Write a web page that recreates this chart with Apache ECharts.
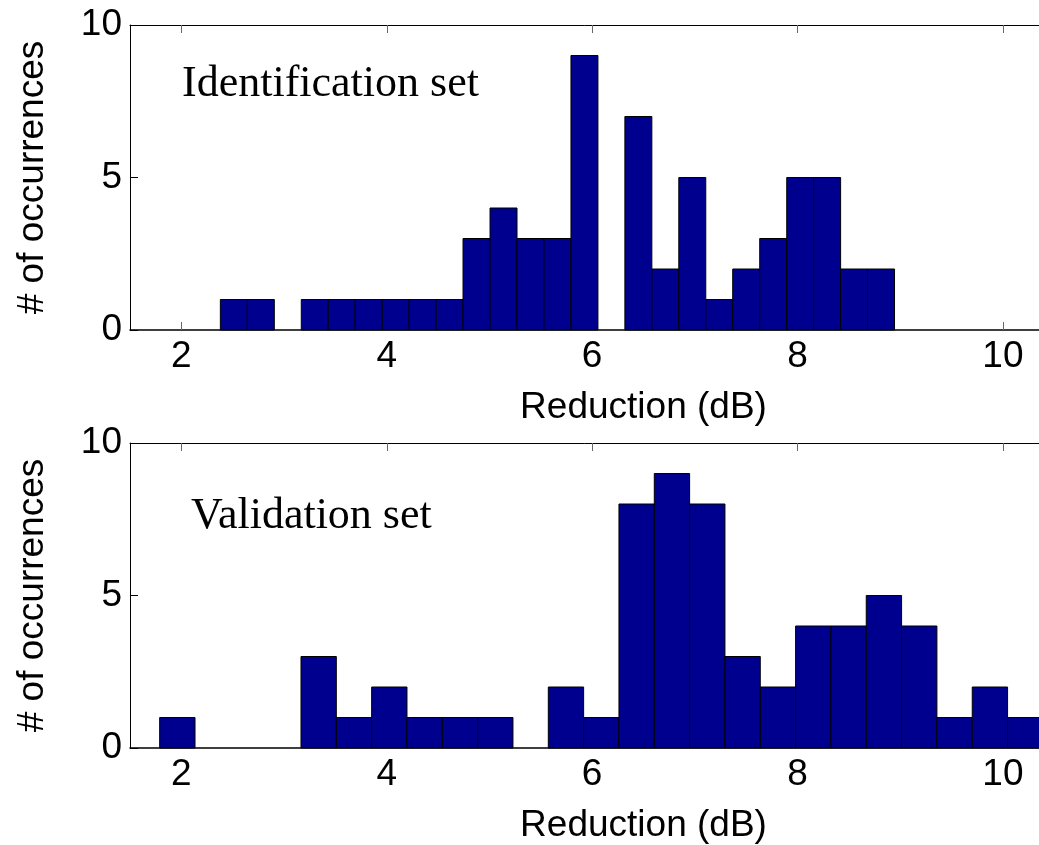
<!DOCTYPE html>
<html>
<head>
<meta charset="utf-8">
<script src="https://cdn.jsdelivr.net/npm/echarts@6/dist/echarts.min.js"></script>
<style>
    html, body {margin: 0; padding: 0; background: #fff;}
    #chart {width: 1039px; height: 845px;}
</style>
</head>
<body>
<div id="chart"></div>
<script>
// bin centres (dB) and counts
var idCenters = [2.511, 2.774, 3.036, 3.299, 3.561, 3.824, 4.087, 4.349, 4.612, 4.874, 5.137, 5.400, 5.662,
    5.925, 6.187, 6.450, 6.713, 6.975, 7.238, 7.500, 7.763, 8.026, 8.288, 8.551, 8.813];
var idCounts = [1, 1, 0, 1, 1, 1, 1, 1, 1, 3, 4, 3, 3, 9, 0, 7, 2, 5, 1, 2, 3, 5, 5, 2, 2];
var idBinWidth = 0.2626;

var valCenters = [1.961, 2.305, 2.649, 2.993, 3.337, 3.681, 4.025, 4.369, 4.713, 5.057, 5.401, 5.745, 6.089,
    6.433, 6.777, 7.121, 7.465, 7.809, 8.153, 8.497, 8.841, 9.185, 9.529, 9.873, 10.217];
var valCounts = [1, 0, 0, 0, 3, 1, 2, 1, 1, 1, 0, 2, 1, 8, 9, 8, 3, 2, 4, 4, 5, 4, 1, 2, 1];
var valBinWidth = 0.344;

var xTicks = [2, 4, 6, 8, 10];

var myChart = echarts.init(document.getElementById('chart'));

var sans = 'Liberation Sans, Arial, Helvetica, sans-serif';
var serif = 'Liberation Serif, Times New Roman, serif';

function toPairs(xs, ys) {
    return xs.map(function (x, i) {
        return [x, ys[i]];
    });
}

function barRenderer(binWidth) {
    return function (params, api) {
        var x = api.value(0);
        var n = api.value(1);
        if (!n) {
            return null;
        }
        var p0 = api.coord([x - binWidth / 2, n]);
        var p1 = api.coord([x + binWidth / 2, 0]);
        return {
            type: 'rect',
            shape: {x: p0[0], y: p0[1], width: p1[0] - p0[0], height: p1[1] - p0[1]},
            style: {fill: '#00008F', stroke: '#000', lineWidth: 1}
        };
    };
}

function bottomAxis(idx) {
    return {
        type: 'value', gridIndex: idx, position: 'bottom',
        min: 1.5, max: 11.5,
        name: 'Reduction (dB)', nameLocation: 'middle', nameGap: 59,
        nameTextStyle: {fontFamily: sans, fontSize: 37, color: '#000'},
        axisLine: {show: true, lineStyle: {color: '#000', width: 1.5}},
        axisTick: {show: true, inside: true, length: 8, customValues: xTicks, lineStyle: {color: '#666'}},
        axisLabel: {show: true, customValues: xTicks, margin: 8, fontFamily: sans, fontSize: 37, color: '#000'},
        splitLine: {show: false}
    };
}

function topAxis(idx) {
    return {
        type: 'value', gridIndex: idx, position: 'top',
        min: 1.5, max: 11.5,
        axisLine: {show: true, onZero: false, lineStyle: {color: '#000', width: 1}},
        axisTick: {show: true, inside: true, length: 8, customValues: xTicks, lineStyle: {color: '#666'}},
        axisLabel: {show: false},
        splitLine: {show: false}
    };
}

function leftAxis(idx) {
    return {
        type: 'value', gridIndex: idx,
        min: 0, max: 10, interval: 5,
        name: '# of occurrences', nameLocation: 'middle', nameGap: 79,
        nameTextStyle: {fontFamily: sans, fontSize: 37, color: '#000'},
        axisLine: {show: true, lineStyle: {color: '#000', width: 1}},
        axisTick: {show: true, inside: true, length: 8, lineStyle: {color: '#000'}},
        axisLabel: {margin: 8, fontFamily: sans, fontSize: 37, color: '#000'},
        splitLine: {show: false}
    };
}

// the original axes run past the right edge of the picture (cropped)
var option = {
    animation: false,
    backgroundColor: '#fff',
    grid: [
        {left: 130, top: 25, height: 305, width: 1027, outerBoundsMode: 'none', containLabel: false},
        {left: 130, top: 443, height: 305, width: 1027, outerBoundsMode: 'none', containLabel: false}
    ],
    xAxis: [bottomAxis(0), topAxis(0), bottomAxis(1), topAxis(1)],
    yAxis: [leftAxis(0), leftAxis(1)],
    graphic: [
        {type: 'text', left: 182, top: 62, style: {text: 'Identification set', font: '44px ' + serif, fill: '#000'}},
        {type: 'text', left: 191, top: 494, style: {text: 'Validation set', font: '44px ' + serif, fill: '#000'}}
    ],
    series: [
        {
            name: 'Identification set',
            type: 'custom',
            xAxisIndex: 0, yAxisIndex: 0,
            renderItem: barRenderer(idBinWidth),
            data: toPairs(idCenters, idCounts)
        },
        {
            name: 'Validation set',
            type: 'custom',
            xAxisIndex: 2, yAxisIndex: 1,
            renderItem: barRenderer(valBinWidth),
            data: toPairs(valCenters, valCounts)
        }
    ]
};

myChart.setOption(option);
</script>
</body>
</html>
